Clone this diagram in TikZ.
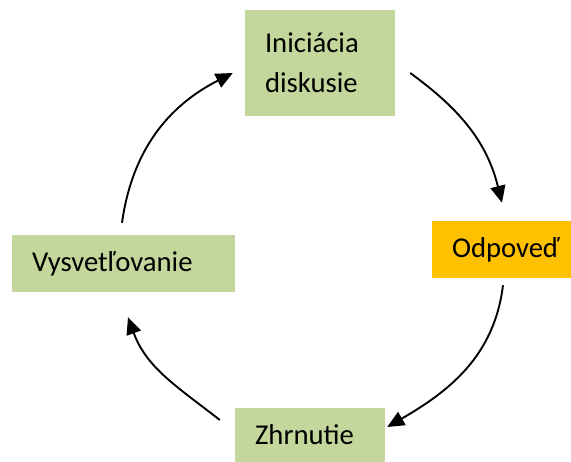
\documentclass[tikz,border=0pt]{standalone}
\usepackage{fontspec}
\setmainfont{Carlito}
\usetikzlibrary{arrows.meta}
\definecolor{boxgreen}{HTML}{C3D69B}
\definecolor{boxorange}{HTML}{FFC000}
\begin{document}
\begin{tikzpicture}[x=1pt, y=1pt, >={Triangle[length=17pt,width=15pt]},
  stage/.style={fill=boxgreen, align=left, inner xsep=20pt, inner ysep=0pt, font=\fontsize{28.7}{40}\selectfont},
  link/.style={->, line width=1.9pt}]
\useasboundingbox (0,0) rectangle (571,462);
\node[stage, text width=110pt, minimum height=106pt] (init) at (320,399) {Iniciácia\\diskusie};
\node[stage, fill=boxorange, text width=120pt, minimum height=57pt] (odp) at (512,212.5) {Odpoveď};
\node[stage, text width=183pt, minimum height=57pt] (vys) at (123.5,198.5) {Vysvetľovanie};
\node[stage, text width=110pt, minimum height=54pt] (zhr) at (310,27) {Zhrnutie};
\draw[link] ([xshift=15pt,yshift=-10pt]init.east) to[out=-36,in=104] ([xshift=-10pt,yshift=18pt]odp.north);
\draw[link] ([xshift=-9pt,yshift=-7pt]odp.south) to[out=-97,in=30] ([xshift=2pt,yshift=8pt]zhr.east);
\draw[link] ([xshift=-15pt,yshift=15pt]zhr.west) to[out=142,in=-70] ([xshift=4.5pt,yshift=-25pt]vys.south);
\draw[link] ([xshift=-1.5pt,yshift=12pt]vys.north) to[out=82,in=207] ([xshift=-12pt,yshift=-10pt]init.west);
\end{tikzpicture}
\end{document}
